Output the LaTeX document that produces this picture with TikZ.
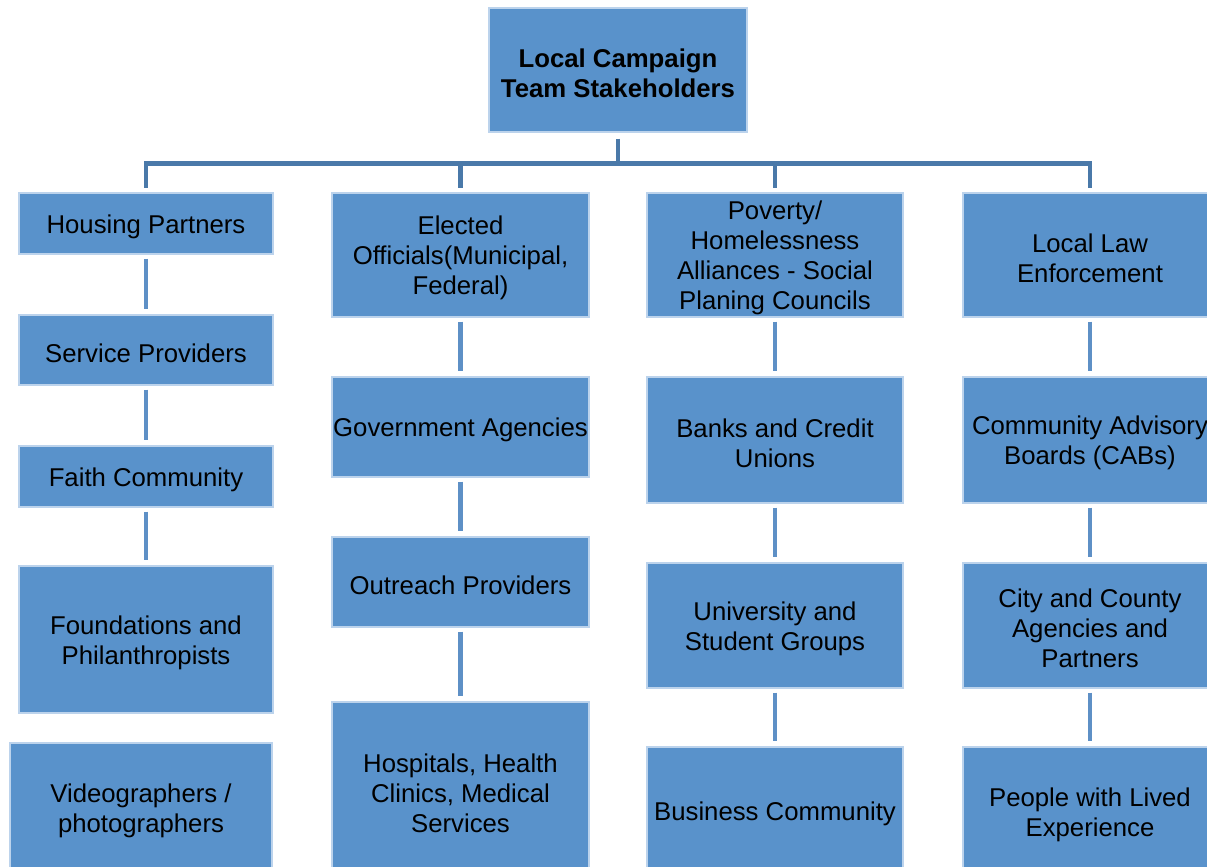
\documentclass[tikz,border=0pt]{standalone}
\usepackage{fontspec}
\setmainfont{Liberation Sans}
\definecolor{boxfill}{HTML}{5992CB}
\definecolor{boxedge}{HTML}{BCD3EC}
\definecolor{busline}{HTML}{4A79A9}
\definecolor{chainline}{HTML}{5E90C6}
\tikzset{
  box/.style={rectangle, fill=boxfill, draw=boxedge, line width=1.1pt, inner sep=0pt},
  lbl/.style={inner sep=0pt, align=center, text=black,
    font=\fontsize{19.3}{22.5}\selectfont},
  bus/.style={draw=busline, line width=3.6pt, line join=miter},
  chain/.style={draw=chainline, line width=3.4pt, shorten <=3pt, shorten >=4pt},
}
% \stakebox{name}{centre x}{centre y}{width}{height}{label}, all in pixels
\newcommand{\stakebox}[6]{%
  \node[box, minimum width=#4*0.75pt, minimum height=#5*0.75pt] (#1) at (#2,#3) {};
  \node[lbl] (#1-text) at ([yshift=-2.2pt]#1.center) {#6};}
\begin{document}
\begin{tikzpicture}[x=0.75pt, y=-0.75pt]
\useasboundingbox (0,0) rectangle (1207,867);
\clip (0,0) rectangle (1207,867);
\fill[white] (0,0) rectangle (1207,867);

% head of the chart
\stakebox{top}{618}{70}{258}{124}{\bfseries Local Campaign\\\bfseries Team Stakeholders}
\coordinate (hub) at (618,163.5);

% first column
\stakebox{housing}{146}{223.5}{254}{61}{Housing Partners}
\stakebox{service}{146}{350}{254}{70}{Service Providers}
\stakebox{faith}{146}{476.5}{254}{61}{Faith Community}
\stakebox{found}{146}{639.5}{254}{147}{Foundations and\\Philanthropists}
\stakebox{video}{141}{808}{262}{130}{Videographers /\\photographers}

% second column
\stakebox{elected}{460.5}{255}{257}{124}{Elected\\Officials(Municipal,\\Federal)}
\stakebox{gov}{460.5}{427}{257}{100}{Government Agencies}
\stakebox{outreach}{460.5}{582}{257}{90}{Outreach Providers}
\stakebox{hosp}{460.5}{790}{257}{176}{Hospitals, Health\\Clinics, Medical\\Services}

% third column
\stakebox{poverty}{775}{255}{256}{124}{Poverty/\\Homelessness\\Alliances - Social\\Planing Councils}
\stakebox{banks}{775}{440}{256}{126}{Banks and Credit\\Unions}
\stakebox{univ}{775}{625.5}{256}{125}{University and\\Student Groups}
\stakebox{business}{775}{811}{256}{128}{Business Community}

% fourth column
\stakebox{law}{1090}{255}{254}{124}{Local Law\\Enforcement}
\stakebox{cab}{1090}{440}{254}{126}{Community Advisory\\Boards (CABs)}
\stakebox{city}{1090}{625.5}{254}{125}{City and County\\Agencies and\\Partners}
\stakebox{people}{1090}{812}{254}{130}{People with Lived\\Experience}

% tree connectors from the head
\draw[bus, shorten <=4.5pt] (top.south) -- (hub);
\foreach \n in {housing, elected, poverty, law}
  \draw[bus, shorten >=3pt] (hub) -| (\n.north);

% chains inside each column
\draw[chain] (housing) -- (service);
\draw[chain] (service) -- (faith);
\draw[chain] (faith) -- (found);
\draw[chain] (elected) -- (gov);
\draw[chain] (gov) -- (outreach);
\draw[chain] (outreach) -- (hosp);
\draw[chain] (poverty) -- (banks);
\draw[chain] (banks) -- (univ);
\draw[chain] (univ) -- (business);
\draw[chain] (law) -- (cab);
\draw[chain] (cab) -- (city);
\draw[chain] (city) -- (people);
\end{tikzpicture}
\end{document}
